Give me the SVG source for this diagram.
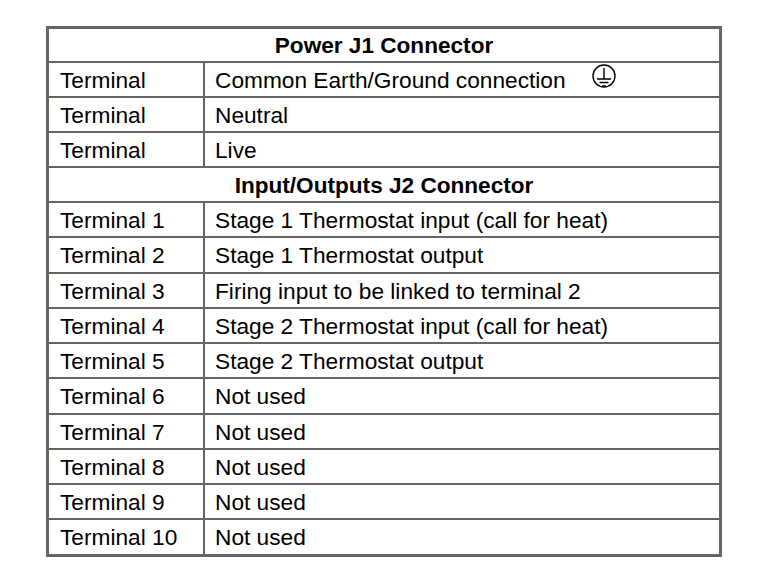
<svg xmlns="http://www.w3.org/2000/svg" width="768" height="584" viewBox="0 0 768 584">
<style>
.t{font-family:"Liberation Sans",Arial,sans-serif;font-size:22.7px;fill:#000}
.h{font-weight:bold;text-anchor:middle;font-size:22.6px}
.l{stroke:#666;stroke-width:2;fill:none}
</style>
<rect width="768" height="584" fill="#fff"/>
<g id="grid">
<rect x="47.5" y="27.5" width="673" height="528" fill="none" stroke="#666" stroke-width="3"/>
<path class="l" d="M47 62H721M47 97H721M47 132H721M47 167H721M47 202H721M47 237H721M47 273H721M47 308H721M47 343H721M47 378H721M47 414H721M47 449H721M47 484H721M47 519H721"/>
<path class="l" d="M204 62V167M204 202V556"/>
</g>
<g id="earth" fill="none" stroke="#000" stroke-width="1.4">
<circle cx="604" cy="76" r="11"/>
<path d="M604 68V79M597 79H611M599.5 82.5H608.5M602 86H606"/>
</g>
<g id="text">
<text class="t h" x="384" y="53">Power J1 Connector</text>
<text class="t" x="60" y="88">Terminal</text><text class="t" x="215" y="88">Common Earth/Ground connection</text>
<text class="t" x="60" y="123">Terminal</text><text class="t" x="215" y="123">Neutral</text>
<text class="t" x="60" y="158">Terminal</text><text class="t" x="215" y="158">Live</text>
<text class="t h" x="384" y="193">Input/Outputs J2 Connector</text>
<text class="t" x="60" y="228">Terminal 1</text><text class="t" x="215" y="228">Stage 1 Thermostat input (call for heat)</text>
<text class="t" x="60" y="263">Terminal 2</text><text class="t" x="215" y="263">Stage 1 Thermostat output</text>
<text class="t" x="60" y="299">Terminal 3</text><text class="t" x="215" y="299">Firing input to be linked to terminal 2</text>
<text class="t" x="60" y="334">Terminal 4</text><text class="t" x="215" y="334">Stage 2 Thermostat input (call for heat)</text>
<text class="t" x="60" y="369">Terminal 5</text><text class="t" x="215" y="369">Stage 2 Thermostat output</text>
<text class="t" x="60" y="404">Terminal 6</text><text class="t" x="215" y="404">Not used</text>
<text class="t" x="60" y="440">Terminal 7</text><text class="t" x="215" y="440">Not used</text>
<text class="t" x="60" y="475">Terminal 8</text><text class="t" x="215" y="475">Not used</text>
<text class="t" x="60" y="510">Terminal 9</text><text class="t" x="215" y="510">Not used</text>
<text class="t" x="60" y="545">Terminal 10</text><text class="t" x="215" y="545">Not used</text>
</g>
</svg>
